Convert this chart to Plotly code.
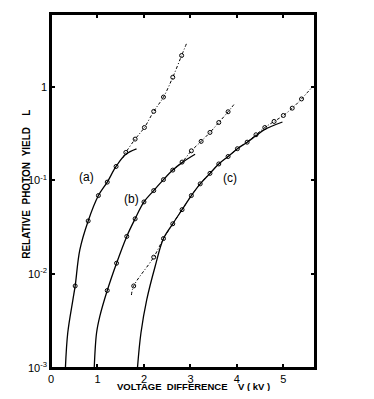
import math
import plotly.graph_objects as go

# curve (a)
a_solid_x = [0.31, 0.36, 0.47, 0.52, 0.62, 0.80, 1.02, 1.21, 1.40, 1.61, 1.84]
a_solid_y = [1e-3, 0.00236, 0.0053, 0.0075, 0.0182, 0.037, 0.069, 0.096, 0.141, 0.19, 0.217]
a_dot_x = [1.55, 1.61, 1.81, 2.01, 2.21, 2.42, 2.62, 2.81, 2.92]
a_dot_y = [0.175, 0.199, 0.276, 0.367, 0.545, 0.775, 1.26, 2.15, 2.92]
a_pts_x = [0.52, 0.80, 1.02, 1.21, 1.40, 1.61, 1.81, 2.01, 2.21, 2.42, 2.62, 2.81]
a_pts_y = [0.0075, 0.037, 0.069, 0.096, 0.141, 0.199, 0.276, 0.367, 0.545, 0.775, 1.26, 2.15]

# curve (b)
b_solid_x = [0.93, 0.98, 1.05, 1.21, 1.41, 1.63, 1.81, 2.0, 2.21, 2.42, 2.62, 2.82, 3.10]
b_solid_y = [1e-3, 0.00236, 0.00355, 0.0067, 0.0131, 0.0253, 0.039, 0.059, 0.078, 0.102, 0.129, 0.155, 0.19]
b_dot_x = [2.6, 2.82, 3.02, 3.23, 3.42, 3.61, 3.81, 3.96]
b_dot_y = [0.127, 0.157, 0.207, 0.261, 0.325, 0.415, 0.54, 0.668]
b_pts_x = [1.21, 1.41, 1.63, 1.81, 2.0, 2.21, 2.42, 2.62, 2.82, 3.02, 3.23, 3.42, 3.61, 3.81]
b_pts_y = [0.0067, 0.0131, 0.0253, 0.039, 0.059, 0.078, 0.102, 0.129, 0.157, 0.207, 0.261, 0.325, 0.415, 0.54]

# curve (c)
c_solid_x = [1.86, 1.935, 2.06, 2.24, 2.42, 2.62, 2.82, 3.02, 3.21, 3.42, 3.61, 3.81, 4.01, 4.22, 4.41, 4.60, 4.98]
c_solid_y = [1e-3, 0.00236, 0.00535, 0.0121, 0.024, 0.0345, 0.0488, 0.069, 0.092, 0.119, 0.150, 0.180, 0.218, 0.256, 0.30, 0.35, 0.42]
c_dot_x = [1.73, 1.78, 2.21, 2.42, 2.62, 2.82, 3.02, 3.21, 3.42, 3.61, 3.81, 4.01, 4.22, 4.41, 4.60, 4.80, 5.0, 5.19, 5.39, 5.61]
c_dot_y = [0.006, 0.0075, 0.0152, 0.024, 0.0345, 0.0488, 0.069, 0.092, 0.119, 0.150, 0.180, 0.218, 0.256, 0.307, 0.367, 0.426, 0.493, 0.59, 0.74, 0.98]
c_pts_x = [1.78, 2.21, 2.42, 2.62, 2.82, 3.02, 3.21, 3.42, 3.61, 3.81, 4.01, 4.22, 4.41, 4.60, 4.80, 5.0, 5.19, 5.39]
c_pts_y = [0.0075, 0.0152, 0.024, 0.0345, 0.0488, 0.069, 0.092, 0.119, 0.150, 0.180, 0.218, 0.256, 0.307, 0.367, 0.426, 0.493, 0.59, 0.74]

labels = ['(a)', '(b)', '(c)']
label_x = [0.77, 1.73, 3.85]
label_y = [0.108, 0.064, 0.106]

y_tickvals = [1e-3, 1e-2, 1e-1, 1]
y_ticktext = ['10<sup>-3</sup>', '10<sup>-2</sup>', '10<sup>-1</sup>', '1']
x_tickvals = [0, 1, 2, 3, 4, 5]

ink = 'black'
fig = go.Figure()

for sx, sy, dx, dy, px, py in [
    (a_solid_x, a_solid_y, a_dot_x, a_dot_y, a_pts_x, a_pts_y),
    (b_solid_x, b_solid_y, b_dot_x, b_dot_y, b_pts_x, b_pts_y),
    (c_solid_x, c_solid_y, c_dot_x, c_dot_y, c_pts_x, c_pts_y),
]:
    fig.add_trace(go.Scatter(x=dx, y=dy, mode='lines',
                             line=dict(color=ink, width=1, dash='3px,2px,1px,2px', shape='spline')))
    fig.add_trace(go.Scatter(x=sx, y=sy, mode='lines',
                             line=dict(color=ink, width=1.3, shape='spline')))
    fig.add_trace(go.Scatter(x=px, y=py, mode='markers',
                             marker=dict(symbol='circle-open', size=4, color=ink, line=dict(width=1))))

for t, lx, ly in zip(labels, label_x, label_y):
    fig.add_annotation(x=lx, y=math.log10(ly), text=t, showarrow=False,
                       font=dict(size=12, color=ink, family='Liberation Sans'))

# axis titles placed by hand
fig.add_annotation(xref='paper', yref='paper', x=0.54, y=-0.053, yanchor='middle',
                   text='<b>VOLTAGE&nbsp;&nbsp;DIFFERENCE&nbsp;&nbsp;&nbsp;&nbsp;V&nbsp;(&nbsp;kV&nbsp;)</b>',
                   showarrow=False, font=dict(size=9.5, color=ink, family='Liberation Sans'))
fig.add_annotation(xref='paper', yref='paper', x=-0.063, y=0.52, xanchor='right', textangle=-90,
                   text='<b>RELATIVE&nbsp;&nbsp;PHOTON&nbsp;&nbsp;YIELD&nbsp;&nbsp;&nbsp;&nbsp;L</b>',
                   showarrow=False, font=dict(size=10, color=ink, family='Liberation Sans'))

# frame
fig.add_shape(type='rect', xref='paper', yref='paper', x0=0, y0=0, x1=1, y1=1,
              line=dict(color=ink, width=2), layer='above')

# page body has an 8px margin, so the figure is 16px smaller than the window
fig.update_layout(
    width=358, height=383,
    margin=dict(l=43, r=51, t=6, b=23),
    showlegend=False,
    paper_bgcolor='white', plot_bgcolor='white',
    font=dict(family='Liberation Sans', size=11, color=ink),
    xaxis=dict(range=[0, 5.68], tickvals=x_tickvals, ticks='inside', ticklen=4, tickcolor=ink,
               tickwidth=1.5, showline=True, mirror='ticks', linecolor=ink, linewidth=1.5,
               automargin=False, showgrid=False, zeroline=False, tickfont=dict(size=11)),
    yaxis=dict(type='log', range=[-3, 0.775], tickvals=y_tickvals, ticktext=y_ticktext,
               ticks='inside', ticklen=4, tickcolor=ink, tickwidth=1.5, showline=True, mirror='ticks',
               linecolor=ink, linewidth=1.5, showgrid=False, zeroline=False, automargin=False,
               tickfont=dict(size=11)),
)

fig.write_html("out.html")
